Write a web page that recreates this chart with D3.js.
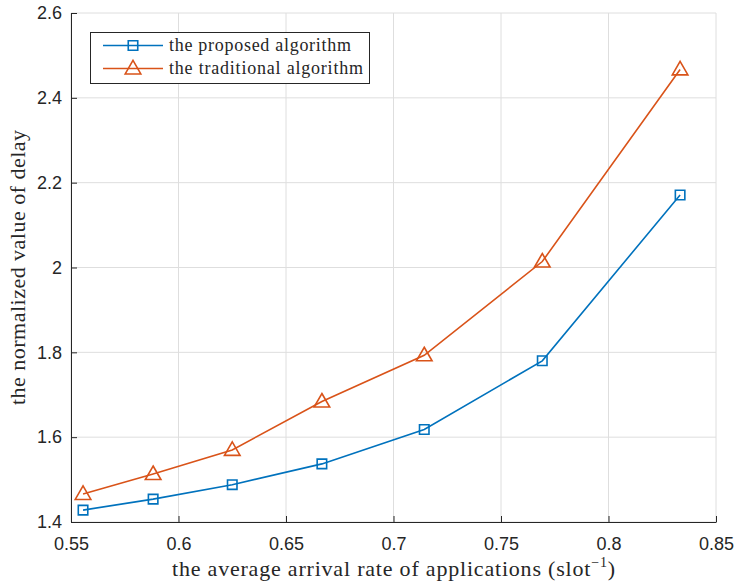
<!DOCTYPE html>
<html><head><meta charset="utf-8">
<script src="https://cdn.jsdelivr.net/npm/d3@7"></script>
<style>body{margin:0;background:#fff}svg{display:block}</style>
</head><body>
<svg id="c" width="736" height="584"></svg>
<script>
const xValues = [0.5556, 0.5882, 0.625, 0.6667, 0.7143, 0.7692, 0.8333];
const proposed = [1.428, 1.454, 1.488, 1.537, 1.618, 1.780, 2.171];
const traditional = [1.466, 1.513, 1.570, 1.684, 1.793, 2.014, 2.467];
const xTicks = [0.55, 0.6, 0.65, 0.7, 0.75, 0.8, 0.85];
const yTicks = [1.4, 1.6, 1.8, 2, 2.2, 2.4, 2.6];
const seriesNames = ["the proposed algorithm", "the traditional algorithm"];

const svg = d3.select("#c");
const L = 71, R = 716, T = 13, B = 522;
const x = d3.scaleLinear().domain([0.55, 0.85]).range([L, R]);
const y = d3.scaleLinear().domain([1.4, 2.6]).range([B, T]);
const blue = "#0072BD", orange = "#D95319";
const tickFont = "'Liberation Sans', Arial, sans-serif";
const serif = "'Liberation Serif', 'DejaVu Serif', serif";

// grid
const g = svg.append("g");
g.selectAll("line.gx").data(xTicks).join("line")
  .attr("x1", d => x(d)).attr("x2", d => x(d)).attr("y1", T).attr("y2", B)
  .attr("stroke", "#dedede").attr("stroke-width", 1);
g.selectAll("line.gy").data(yTicks).join("line")
  .attr("x1", L).attr("x2", R).attr("y1", d => y(d)).attr("y2", d => y(d))
  .attr("stroke", "#dedede").attr("stroke-width", 1);

// axes
const xAxis = d3.axisBottom(x).tickValues(xTicks).tickSizeInner(-6).tickSizeOuter(0).tickPadding(15)
  .tickFormat(d => String(+d.toFixed(2)));
const yAxis = d3.axisLeft(y).tickValues(yTicks).tickSizeInner(-6).tickSizeOuter(0).tickPadding(9)
  .tickFormat(d => String(+d.toFixed(1)));
const gx = svg.append("g").attr("transform", `translate(0,${B})`).call(xAxis);
const gy = svg.append("g").attr("transform", `translate(${L},0)`).call(yAxis);
[gx, gy].forEach(a => {
  a.selectAll("path.domain").attr("stroke", "#262626").attr("stroke-width", 1);
  a.selectAll(".tick line").attr("stroke", "#262626");
  a.selectAll("text").attr("font-family", tickFont).attr("font-size", 18).attr("fill", "#262626");
});

// axis titles
svg.append("text").attr("x", (L + R) / 2).attr("y", 576)
  .attr("text-anchor", "middle").attr("font-family", serif).attr("font-size", 22).attr("fill", "#262626")
  .attr("textLength", 443).attr("lengthAdjust", "spacing")
  .html('the average arrival rate of applications (slot<tspan dy="-9" font-size="14">−1</tspan><tspan dy="9">)</tspan>');
svg.append("text").attr("transform", `translate(25,${(T + B) / 2}) rotate(-90)`)
  .attr("text-anchor", "middle").attr("font-family", serif).attr("font-size", 22).attr("fill", "#262626")
  .attr("textLength", 275).attr("lengthAdjust", "spacing")
  .text("the normalized value of delay");

// lines
const line = d3.line().x((d, i) => x(xValues[i])).y(d => y(d));
svg.append("path").datum(proposed).attr("d", line).attr("fill", "none").attr("stroke", blue).attr("stroke-width", 1.6);
svg.append("path").datum(traditional).attr("d", line).attr("fill", "none").attr("stroke", orange).attr("stroke-width", 1.6);

const sq = d3.symbol().type(d3.symbolSquare).size(90);
const tri = (cx, cy, s) => `M${cx},${cy - s * 0.62}L${cx + s * 0.6},${cy + s * 0.42}L${cx - s * 0.6},${cy + s * 0.42}Z`;
svg.selectAll("path.sq").data(proposed).join("path")
  .attr("d", sq).attr("transform", (d, i) => `translate(${x(xValues[i])},${y(d)})`)
  .attr("fill", "none").attr("stroke", blue).attr("stroke-width", 1.6);
svg.selectAll("path.tri").data(traditional).join("path")
  .attr("d", (d, i) => tri(x(xValues[i]), y(d), 13))
  .attr("fill", "none").attr("stroke", orange).attr("stroke-width", 1.6);

// legend
const lg = svg.append("g");
lg.append("rect").attr("x", 90.5).attr("y", 32.5).attr("width", 279).attr("height", 51)
  .attr("fill", "#fff").attr("stroke", "#262626").attr("stroke-width", 1);
const rows = [{c: blue, t: seriesNames[0], m: "sq", w: 182}, {c: orange, t: seriesNames[1], m: "tri", w: 194}];
rows.forEach((r, i) => {
  const cy = 45.5 + i * 23;
  lg.append("line").attr("x1", 103).attr("x2", 163).attr("y1", cy).attr("y2", cy).attr("stroke", r.c).attr("stroke-width", 1.6);
  if (r.m === "sq") lg.append("path").attr("d", sq).attr("transform", `translate(133,${cy})`).attr("fill", "none").attr("stroke", r.c).attr("stroke-width", 1.6);
  else lg.append("path").attr("d", tri(133, cy, 13)).attr("fill", "none").attr("stroke", r.c).attr("stroke-width", 1.6);
  lg.append("text").attr("x", 169).attr("y", cy + 5).attr("font-family", serif).attr("font-size", 18).attr("fill", "#262626")
    .attr("textLength", r.w).attr("lengthAdjust", "spacing").text(r.t);
});
</script>
</body></html>
